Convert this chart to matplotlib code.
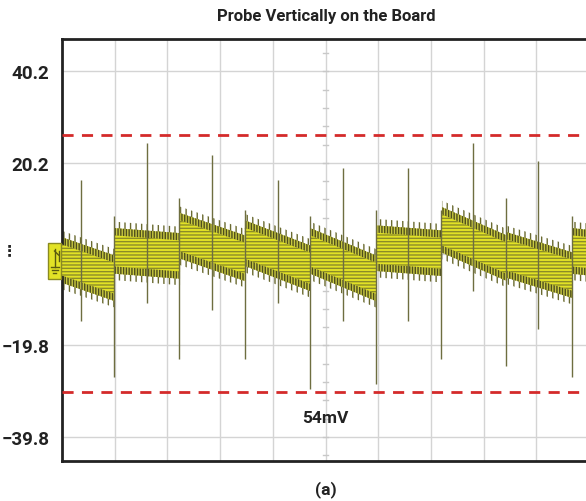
import matplotlib.pyplot as plt
from matplotlib.patches import Rectangle
from matplotlib.lines import Line2D

# band segments of the noise trace: x in divisions, centre level in mV
seg_edges = [0.0, 1.0, 2.24, 3.47, 4.71, 5.96, 7.21, 8.44, 9.68, 10.0]
seg_start = [-1.1, 0.9, 4.2, 2.6, 0.9, 1.5, 5.5, 0.0, 0.9]
seg_end = [-5.1, -0.2, -0.7, -2.9, -5.1, 0.4, -0.7, -4.4, 0.5]

# switching spikes
spike_x = [0.36, 0.99, 1.61, 2.22, 2.85, 3.47, 4.10, 4.71,
           5.33, 5.96, 6.57, 7.19, 7.80, 8.43, 9.03, 9.68]
spike_top = [16.5, 8.6, 24.6, 12.5, 22.0, 9.9, 16.5, 8.6,
             19.1, 9.9, 19.1, 9.9, 24.6, 12.5, 20.6, 8.6]
spike_bot = [-14.5, -26.6, -10.6, -22.7, -12.1, -22.7, -10.6, -29.3,
             -14.5, -28.2, -14.5, -22.7, -7.9, -24.2, -16.1, -26.6]

y_ticks = [40.2, 20.2, -19.8, -39.8]
limit_hi = 26.2
limit_lo = -29.9
pk_label = "54mV"

yellow = "#e2e226"
olive = "#4e4e1c"

fig = plt.figure(figsize=(5.86, 5.02), dpi=100)
ax = fig.add_axes([62 / 586, 40 / 502, 527 / 586, 422 / 502])
ax.set_xlim(0, 10)
ax.set_ylim(-45.1, 47.3)

# grid
for gx in range(1, 10):
    ax.axvline(gx, color="#d4d4d4", lw=1, zorder=0)
for gy in [40.2, 20.2, 0.2, -19.8, -39.8]:
    ax.axhline(gy, color="#d4d4d4", lw=1, zorder=0)
# minor marks on the centre line
v = 0.2 - 4 * 12
while v < 47.3:
    if v > -45.1:
        ax.plot([4.96, 5.04], [v, v], color="#c8c8c8", lw=1, zorder=0)
    v += 4.0

# trace band: sparse outer whiskers, dense inner whiskers, striped core
for i in range(len(seg_start)):
    xs = [seg_edges[i], seg_edges[i + 1]]
    c = [seg_start[i], seg_end[i]]
    ax.fill_between(xs, [k - 6.4 for k in c], [k + 6.4 for k in c],
                    facecolor="none", edgecolor="#6a6a30", hatch="|||", lw=0, zorder=2)
    ax.fill_between(xs, [k - 5.0 for k in c], [k + 5.0 for k in c],
                    facecolor="#c8c840", edgecolor=olive, hatch="||||||", lw=0, zorder=2)
    ax.fill_between(xs, [k - 3.4 for k in c], [k + 3.4 for k in c],
                    facecolor=yellow, edgecolor="#8c8c28", hatch="-----", lw=0, zorder=3)

ax.vlines(spike_x, spike_bot, spike_top, color="#6e6e40", lw=1, zorder=4)

# limit lines
ax.axhline(limit_hi, color="#d42a2a", lw=2, ls=(0, (4, 3)), zorder=5)
ax.axhline(limit_lo, color="#d42a2a", lw=2, ls=(0, (4, 3)), zorder=5)
ax.text(5, -35.6, pk_label, ha="center", va="center", fontsize=12.5,
        fontweight="bold", family="Roboto", color="#222222")

ax.set_xticks([])
ax.set_yticks(y_ticks)
ax.set_yticklabels([f"{t:.1f}".replace("-", "\u2212") for t in y_ticks],
                   fontsize=13.5, fontweight="bold", family="Roboto", color="#222222")
ax.tick_params(axis="y", length=0, pad=9)
for s in ["left", "top", "bottom"]:
    ax.spines[s].set_linewidth(2)
    ax.spines[s].set_color("#222222")
ax.spines["right"].set_visible(False)

fig.text(326 / 586, 1 - 17 / 502, "Probe Vertically on the Board", ha="center",
         va="center", fontsize=12, fontweight="bold", family="Roboto", color="#222222")
fig.text(326 / 586, 1 - 490 / 502, "(a)", ha="center", va="center", fontsize=12.5,
         fontweight="bold", family="Roboto", color="#222222")
fig.text(9 / 586, 1 - 251 / 502, "\u22ee", ha="center", va="center", fontsize=11,
         fontweight="bold", color="#222222")

# ground marker
fig.patches.append(Rectangle((48 / 586, 1 - 280 / 502), 13 / 586, 36 / 502,
                             transform=fig.transFigure, facecolor=yellow,
                             edgecolor="#8a8a20", lw=1, zorder=6))
for (x0, x1, y0, y1) in [(54.5, 54.5, 250, 268), (50.5, 58.5, 268, 268),
                         (51.5, 57.5, 271, 271), (53, 56, 274, 274),
                         (54.5, 58.5, 252, 256), (58.5, 58.5, 252, 262)]:
    fig.lines.append(Line2D([x0 / 586, x1 / 586], [1 - y0 / 502, 1 - y1 / 502],
                            transform=fig.transFigure, color="#5a5a10", lw=1, zorder=7))

fig.savefig("out.png", dpi=100)
